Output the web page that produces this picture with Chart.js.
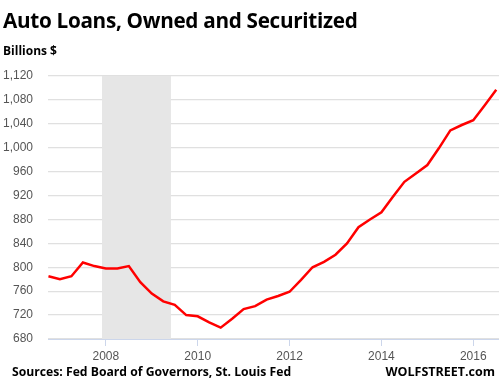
<!DOCTYPE html>
<html lang="en">
<head>
  <meta charset="UTF-8" />
  <title>Auto Loans, Owned and Securitized</title>
  <script src="https://cdn.jsdelivr.net/npm/chart.js"></script>
  <style>
    body { margin: 0; background: #fff; }
    #wrap { position: relative; width: 499px; height: 387px; overflow: hidden; }
    #chart { position: absolute; left: 0; top: 0; }
    .txt { position: absolute; font-family: "Open Sans", sans-serif; font-weight: bold; color: #000; white-space: nowrap; }
    #title { left: 3px; top: 6px; font-size: 20.7px; letter-spacing: -0.3px; }
    #unit { left: 3px; top: 42px; font-size: 12px; }
    #source { left: 12px; top: 363px; font-size: 12.2px; }
    #brand { right: 4px; top: 363px; font-size: 12.5px; }
  </style>
</head>
<body>
<div id="wrap">
  <canvas id="chart" width="499" height="387"></canvas>
  <div class="txt" id="title">Auto Loans, Owned and Securitized</div>
  <div class="txt" id="unit">Billions $</div>
  <div class="txt" id="source">Sources: Fed Board of Governors, St. Louis Fed</div>
  <div class="txt" id="brand">WOLFSTREET.com</div>
</div>

<script>
  // quarterly data, first month of each quarter
  const quarters = [
    '2006-10', '2007-01', '2007-04', '2007-07', '2007-10',
    '2008-01', '2008-04', '2008-07', '2008-10',
    '2009-01', '2009-04', '2009-07', '2009-10',
    '2010-01', '2010-04', '2010-07', '2010-10',
    '2011-01', '2011-04', '2011-07', '2011-10',
    '2012-01', '2012-04', '2012-07', '2012-10',
    '2013-01', '2013-04', '2013-07', '2013-10',
    '2014-01', '2014-04', '2014-07', '2014-10',
    '2015-01', '2015-04', '2015-07', '2015-10',
    '2016-01', '2016-04', '2016-07'
  ];
  const loans = [
    785, 780, 785, 808, 802,
    798, 798, 802, 775,
    756, 743, 737, 720,
    718, 708, 699, 714,
    730, 735, 746, 752,
    759, 779, 800, 809,
    821, 840, 867, 880,
    892, 918, 943, 957,
    971, 999, 1029, 1038,
    1046, 1071, 1097
  ];
  const yearTicks = [2008, 2010, 2012, 2014, 2016];
  const recession = ['2007-12', '2009-06'];

  function toYear(s) {
    const [y, m] = s.split('-').map(Number);
    return y + (m - 1) / 12;
  }

  const recessionBand = {
    id: 'recessionBand',
    beforeDatasetsDraw(chart) {
      const { ctx, chartArea, scales } = chart;
      const x0 = scales.x.getPixelForValue(toYear(recession[0]));
      const x1 = scales.x.getPixelForValue(toYear(recession[1]));
      ctx.save();
      ctx.fillStyle = '#e6e6e6';
      ctx.fillRect(x0, chartArea.top, x1 - x0, chartArea.bottom - chartArea.top);
      ctx.restore();
    }
  };

  new Chart(document.getElementById('chart'), {
    type: 'line',
    data: {
      datasets: [{
        data: quarters.map((q, i) => ({ x: toYear(q), y: loans[i] })),
        borderColor: '#ff0000',
        borderWidth: 2.5,
        pointRadius: 0,
        tension: 0,
        fill: false
      }]
    },
    options: {
      responsive: false,
      animation: false,
      layout: { padding: { top: 76, right: 0, bottom: 0, left: 0 } },
      plugins: { legend: { display: false }, tooltip: { enabled: false } },
      scales: {
        x: {
          type: 'linear',
          min: 2006.74,
          max: 2016.56,
          afterBuildTicks: s => { s.ticks = yearTicks.map(v => ({ value: v })); },
          afterFit: s => { s.height = 48; },
          grid: { drawOnChartArea: false, drawTicks: true, tickLength: 7, color: '#ccd6eb' },
          border: { color: '#ccd6eb' },
          ticks: {
            color: '#555',
            font: { family: 'Liberation Sans', size: 12 },
            padding: 3,
            maxRotation: 0,
            callback: v => String(v)
          }
        },
        y: {
          min: 680,
          max: 1120,
          afterFit: s => { s.width = 48; },
          grid: { color: '#e0e0e0', lineWidth: 1.2, drawTicks: false },
          border: { display: false },
          ticks: {
            stepSize: 40,
            color: '#555',
            font: { family: 'Liberation Sans', size: 12 },
            padding: 15,
            callback: v => v.toLocaleString('en-US')
          }
        }
      }
    },
    plugins: [recessionBand]
  });
</script>
</body>
</html>
